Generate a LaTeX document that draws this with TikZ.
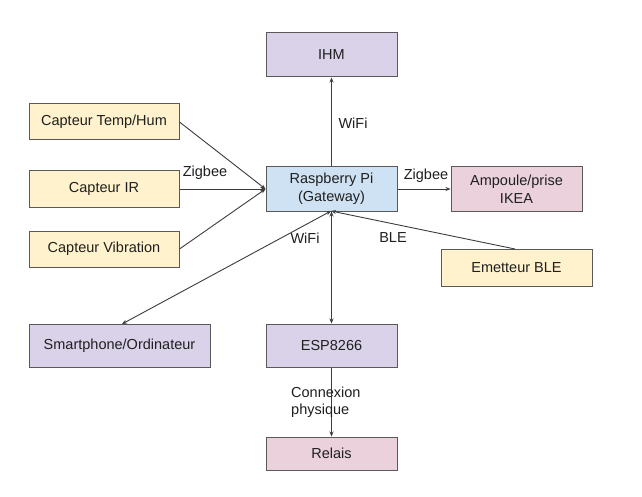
\documentclass[tikz,border=0pt]{standalone}
\usepackage{fontspec}
\setmainfont{Liberation Sans}
\usetikzlibrary{arrows.meta}
\definecolor{cyellow}{HTML}{FFF2CC}
\definecolor{cblue}{HTML}{CFE2F3}
\definecolor{cpurple}{HTML}{D9D2E9}
\definecolor{cpink}{HTML}{EAD1DC}
\definecolor{cborder}{HTML}{595959}
\definecolor{cline}{HTML}{3C3C3C}
\tikzset{
  box/.style={draw=cborder, line width=1pt, rectangle, inner sep=0pt, align=center,
    font=\fontsize{14.5}{17.5}\selectfont, text=black!88},
  conn/.style={draw=cline, line width=0.9pt, -{Stealth[length=5pt,width=4pt]}},
  biconn/.style={draw=cline, line width=0.9pt, {Stealth[length=5pt,width=4pt]}-{Stealth[length=5pt,width=4pt]}},
  lbl/.style={font=\fontsize{14.5}{17.5}\selectfont, text=black!88, inner sep=0pt}
}
\begin{document}
\begin{tikzpicture}[x=1pt,y=-1pt]
\useasboundingbox[fill=white] (0,0) rectangle (642,497);
\node[box, fill=cpurple, minimum width=131, minimum height=44] (ihm) at (331.5,55) {IHM};
\node[box, fill=cyellow, minimum width=150, minimum height=36] (th) at (104,122) {Capteur Temp/Hum};
\node[box, fill=cyellow, minimum width=150, minimum height=36] (ir) at (104,189) {Capteur IR};
\node[box, fill=cyellow, minimum width=150, minimum height=36] (vib) at (104,249) {Capteur Vibration};
\node[box, fill=cblue, minimum width=131, minimum height=44] (rpi) at (331.5,189) {Raspberry Pi\\(Gateway)};
\node[box, fill=cpink, minimum width=131, minimum height=44] (amp) at (516.5,189) {Ampoule/prise\\IKEA};
\node[box, fill=cyellow, minimum width=151, minimum height=37] (ble) at (516.5,267.5) {Emetteur BLE};
\node[box, fill=cpurple, minimum width=181, minimum height=43] (phone) at (119.5,345.5) {Smartphone/Ordinateur};
\node[box, fill=cpurple, minimum width=131, minimum height=43] (esp) at (331.5,345.5) {ESP8266};
\node[box, fill=cpink, minimum width=131, minimum height=33] (relais) at (331.5,453.5) {Relais};

\coordinate (rpib) at (331,211);
\coordinate (phonet) at (122,324);
\coordinate (blet) at (515,249);

\draw[conn] (th.east) -- (rpi.west);
\draw[conn] (ir.east) -- (rpi.west);
\draw[conn] (vib.east) -- (rpi.west);
\draw[conn] (rpi.north) -- (ihm.south);
\draw[conn] (rpi.east) -- (amp.west);
\draw[conn] (blet) -- (rpib);
\draw[biconn] (phonet) -- (rpib);
\draw[biconn] (esp.north) -- (rpi.south);
\draw[conn] (esp.south) -- (relais.north);

\node[lbl] (l1) at (205,173) {Zigbee};
\node[lbl] (l2) at (353,123) {WiFi};
\node[lbl] (l3) at (426,176) {Zigbee};
\node[lbl] (l4) at (305,238) {WiFi};
\node[lbl] (l5) at (393,238) {BLE};
\node[lbl, anchor=west, align=left] (l6) at (291,402) {Connexion\\physique};
\end{tikzpicture}
\end{document}
